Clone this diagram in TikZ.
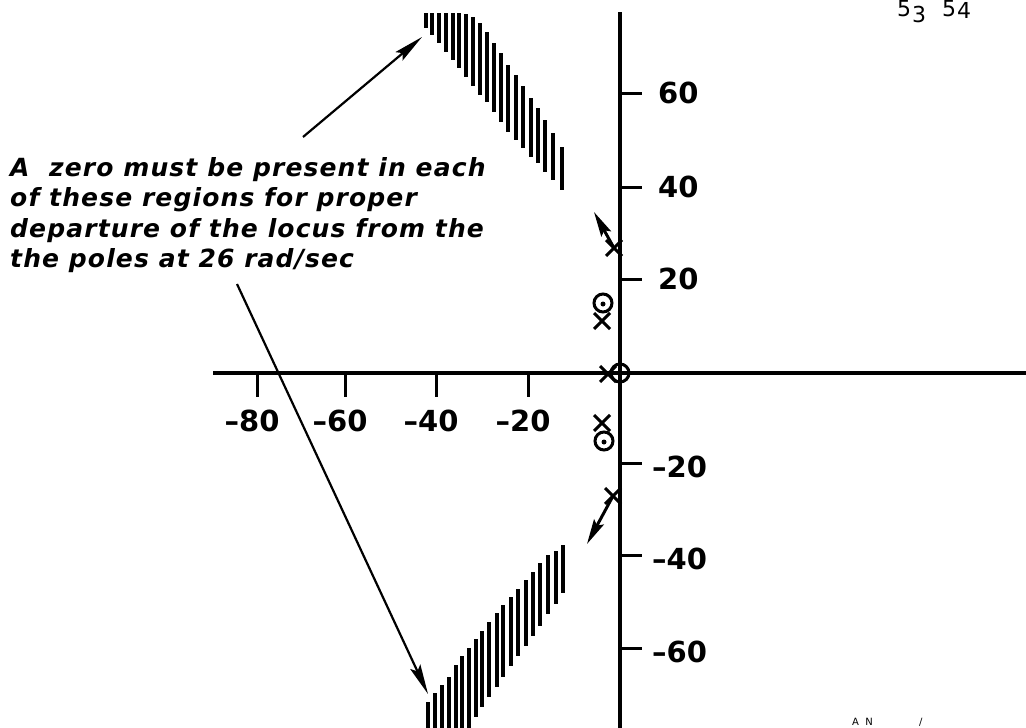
\documentclass[tikz,border=0pt]{standalone}
\usepackage{fontspec}
\setmainfont{DejaVu Sans}
\usetikzlibrary{arrows.meta,shapes.misc}
\begin{document}
\begin{tikzpicture}[x=1pt,y=-1pt,
  axis/.style={line width=3.2pt},
  tickmark/.style={line width=3pt},
  hatch/.style={line width=3.2pt},
  lbl/.style={font=\fontsize{29}{29}\selectfont\bfseries, inner sep=0pt},
  pole/.style={draw, cross out, minimum size=13pt, inner sep=0pt, line width=3pt},
  zero/.style={draw, circle, minimum size=18pt, inner sep=0pt, line width=3pt},
  dotmark/.style={fill, circle, minimum size=5pt, inner sep=0pt},
  arr/.style={line width=2.2pt, -{Stealth[length=30pt,width=11pt,inset=5pt]}},
  parr/.style={line width=3pt, -{Stealth[length=25pt,width=11pt,inset=4pt]}},
  note/.style={anchor=base west, inner sep=0pt,
    font=\fontsize{25}{30}\selectfont\bfseries\itshape\addfontfeature{LetterSpace=4.5}},
  hand/.style={inner sep=0pt, font=\fontsize{22}{22}\selectfont}
]
\useasboundingbox (0,0) rectangle (1026,728);

% axes
\coordinate (xl) at (213,373);
\coordinate (xr) at (1030,373);
\coordinate (yt) at (620,12);
\coordinate (yb) at (620,735);
\draw[axis] (xl) -- (xr);
\draw[axis] (yt) -- (yb);

% x ticks and labels
\foreach \x/\t in {257/{--80}, 345/{--60}, 436/{--40}, 528/{--20}} {
  \draw[tickmark] (\x,373) -- (\x,397);
  \node[lbl, anchor=center] at (\x-5,421) {\t};
}
% y ticks and labels
\foreach \y/\t in {93/60, 187/40, 279/20} {
  \draw[tickmark] (620,\y) -- (642,\y);
  \node[lbl, anchor=west] at (658,\y) {\t};
}
\foreach \y/\t in {463/{--20}, 555/{--40}, 648/{--60}} {
  \draw[tickmark] (620,\y) -- (642,\y);
  \node[lbl, anchor=west] at (652,\y+4) {\t};
}

% hatched regions
\foreach \x/\a/\b in {426/13/28, 432/13/35, 439/13/43, 446/13/52, 453/13/60,
  459/13/68, 466/14/77, 473/17/86, 480/23/95, 487/32/102, 494/43/112,
  501/53/122, 508/65/132, 516/75/140, 523/86/148, 531/98/157, 538/108/163,
  545/120/172, 553/133/180, 562/147/190}
  \draw[hatch] (\x,\a) -- (\x,\b);
\foreach \x/\a/\b in {428/702/740, 435/693/740, 442/685/740, 449/677/740,
  456/665/740, 462/656/740, 469/648/730, 476/639/717, 482/631/707,
  489/622/697, 497/613/687, 503/605/677, 511/597/666, 518/589/656,
  526/580/646, 533/572/636, 540/563/626, 548/555/614, 556/551/604, 563/545/593}
  \draw[hatch] (\x,\a) -- (\x,\b);

% poles and zeros
\node[zero] (z0) at (620,373) {};
\node[pole] (p0) at (608,374) {};
\node[zero] (z1) at (603,303) {};
\node[dotmark] (d1) at (603,304) {};
\node[pole] (p1) at (602,321) {};
\node[zero] (z2) at (604,441) {};
\node[dotmark] (d2) at (604,442) {};
\node[pole] (p2) at (602,423) {};
\node[pole] (pu) at (614,248) {};
\node[pole] (pl) at (613,496) {};

% departure arrows
\coordinate (tu) at (594,212);
\coordinate (tl) at (587,544);
\draw[parr] (pu.center) -- (tu);
\draw[parr] (pl.center) -- (tl);

% annotation
\node[note] (n1) at (10,176) {A\ \ zero must be present in each};
\node[note] (n2) at (10,206) {of these regions for proper};
\node[note] (n3) at (10,237) {departure of the locus from the};
\node[note] (n4) at (10,267) {the poles at 26 rad/sec};

\coordinate (s1) at (303,137);
\coordinate (t1) at (422,37);
\coordinate (s2) at (237,284);
\coordinate (t2) at (428,694);
\draw[arr] (s1) -- (t1);
\draw[arr] (s2) -- (t2);

% marginal handwriting
\node[hand, anchor=north west] (h1) at (897,0) {5};
\node[hand, anchor=north west] (h2) at (912,6) {3};
\node[hand, anchor=north west] (h3) at (942,0) {5};
\node[hand, anchor=north west] (h4) at (957,2) {4};
\node[inner sep=0pt, font=\fontsize{10}{10}\selectfont, anchor=south west] (h5) at (852,727) {A\ \ N\qquad\qquad\ \ /};
\end{tikzpicture}
\end{document}
